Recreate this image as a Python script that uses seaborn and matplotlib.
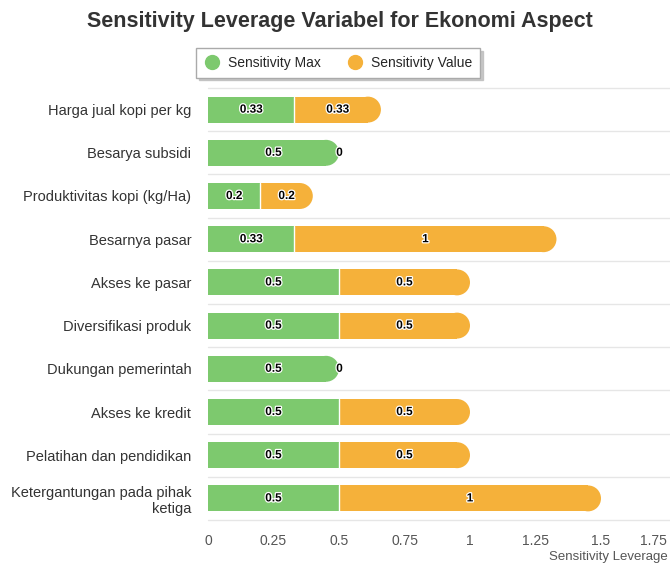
import seaborn as sns
import matplotlib.pyplot as plt
import pandas as pd
from matplotlib.patches import Ellipse
from matplotlib.lines import Line2D
import matplotlib.patheffects as pe

categories = ["Harga jual kopi per kg", "Besarya subsidi", "Produktivitas kopi (kg/Ha)",
              "Besarnya pasar", "Akses ke pasar", "Diversifikasi produk",
              "Dukungan pemerintah", "Akses ke kredit", "Pelatihan dan pendidikan",
              "Ketergantungan pada pihak\nketiga"]
sens_max = [0.33, 0.5, 0.2, 0.33, 0.5, 0.5, 0.5, 0.5, 0.5, 0.5]
sens_value = [0.33, 0, 0.2, 1, 0.5, 0.5, 0, 0.5, 0.5, 1]
xticks = [0, 0.25, 0.5, 0.75, 1, 1.25, 1.5, 1.75]

green = "#7dc96e"
orange = "#f5b13a"

df = pd.DataFrame({"cat": categories, "max": sens_max, "value": sens_value})
df["total"] = df["max"] + df["value"]

sns.set_style("white")
plt.rcParams["font.family"] = ["Liberation Sans", "DejaVu Sans"]

fig = plt.figure(figsize=(6.7, 5.63), dpi=100)
ax = fig.add_axes([208 / 670, 1 - 520 / 563, 1 - 208 / 670, 432 / 563])

sns.barplot(data=df, y="cat", x="total", color=orange, orient="h", width=0.6,
            saturation=1, ax=ax)
sns.barplot(data=df, y="cat", x="max", color=green, orient="h", width=0.6,
            saturation=1, ax=ax)

xmax = 462 / 262
ax.set_xlim(0, xmax)
ax.set_ylim(len(categories) - 0.5, -0.5)

# rounded right end on the outer segment
xpp = xmax / 462
ypp = len(categories) / 432
asp = ypp / xpp
orange_bars = ax.containers[0].patches
green_bars = ax.containers[1].patches
for i in range(len(categories)):
    orange_bars[i].set_edgecolor("none")
    green_bars[i].set_edgecolor("none")
    if df["value"][i] > 0:
        p = orange_bars[i]
        col = orange
        ax.plot([df["max"][i]] * 2, [i - 0.3, i + 0.3], color="white", lw=1,
                zorder=4)
    else:
        orange_bars[i].set_visible(False)
        p = green_bars[i]
        col = green
    x0, y0, w, h = p.get_x(), p.get_y(), p.get_width(), p.get_height()
    r = h / asp / 2
    p.set_width(w - r)
    cap = Ellipse((x0 + w - r, y0 + h / 2), 2 * r, h, facecolor=col,
                  edgecolor="none", zorder=p.get_zorder())
    ax.add_patch(cap)

# value labels
fx = [pe.withStroke(linewidth=1.8, foreground="white")]
for i in range(len(categories)):
    m = df["max"][i]
    v = df["value"][i]
    ax.text(m / 2, i, f"{m:g}", ha="center", va="center", fontsize=8.5,
            fontweight="bold", color="black", path_effects=fx, zorder=5)
    if v > 0:
        ax.text(m + v / 2, i, f"{v:g}", ha="center", va="center", fontsize=8.5,
                fontweight="bold", color="black", path_effects=fx, zorder=5)
    else:
        ax.text(m + 0.002, i, "0", ha="center", va="center", fontsize=8.5,
                fontweight="bold", color="black", path_effects=fx, zorder=5)

# row separators
for b in range(len(categories) + 1):
    ax.axhline(b - 0.5, color="#e6e6e6", lw=1, zorder=0, clip_on=False)

ax.set_xticks(xticks)
ax.set_xticklabels([f"{t:g}" for t in xticks], color="#555555", fontsize=10)
ax.get_xticklabels()[-1].set_ha("right")
ax.tick_params(axis="x", length=0, pad=10)
ax.tick_params(axis="y", length=0, pad=12, labelsize=10.5, labelcolor="#333333")
ax.set_ylabel("")
ax.set_xlabel("")
sns.despine(ax=ax, left=True, bottom=True, top=True, right=True)

fig.text(0.997, 1 - 557 / 563, "Sensitivity Leverage", ha="right", va="center",
         fontsize=9.5, color="#555555")

fig.suptitle("Sensitivity Leverage Variabel for Ekonomi Aspect", x=0.508,
             y=1 - 22 / 563, va="center", fontsize=15.5, fontweight="bold",
             color="#333333")

handles = [Line2D([], [], marker="o", ls="", color=green, markersize=10),
           Line2D([], [], marker="o", ls="", color=orange, markersize=10)]
fig.legend(handles, ["Sensitivity Max", "Sensitivity Value"], ncol=2,
           loc="center", bbox_to_anchor=(338 / 670, 1 - 63 / 563),
           fontsize=10, frameon=True, fancybox=False,
           shadow={"ox": 2, "oy": -2, "color": "#bbbbbb", "alpha": 0.8},
           edgecolor="#aaaaaa", handletextpad=0.5, columnspacing=1.8,
           borderpad=0.55, handlelength=1.3)

fig.savefig("out.png", dpi=100)
